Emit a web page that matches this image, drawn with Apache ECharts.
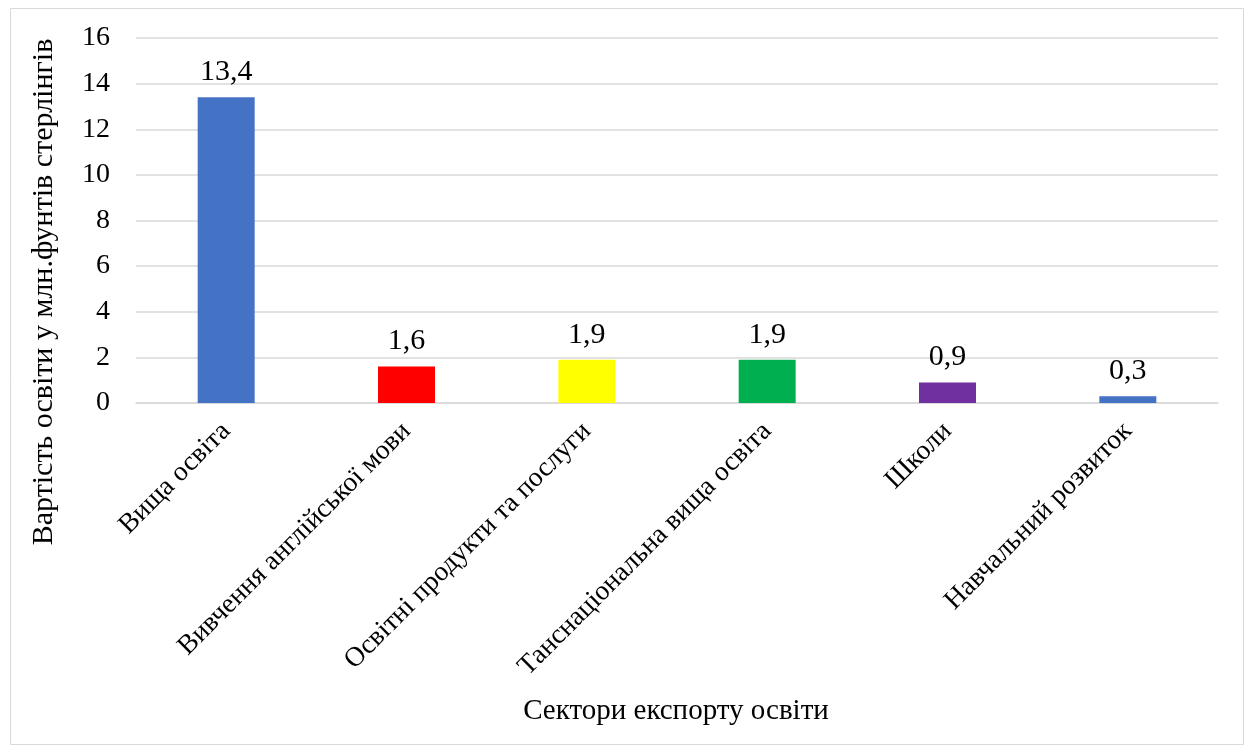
<!DOCTYPE html>
<html><head><meta charset="utf-8">
<script src="https://cdn.jsdelivr.net/npm/echarts@6/dist/echarts.min.js"></script>
<style>html,body{margin:0;padding:0;background:#fff}#c{width:1254px;height:753px}</style>
</head><body><div id="c"></div>
<script>
const categories = ['Вища освіта','Вивчення англійської мови','Освітні продукти та послуги','Танснаціональна вища освіта','Школи','Навчальний розвиток'];
const values = [13.4, 1.6, 1.9, 1.9, 0.9, 0.3];
const colors = ['#4472C4','#FF0000','#FFFF00','#00B050','#7030A0','#4472C4'];
const yTitle = 'Вартість освіти у млн.фунтів стерлінгів';
const xTitle = 'Сектори експорту освіти';
const F = '"Liberation Serif","Times New Roman",serif';
const chart = echarts.init(document.getElementById('c'));
chart.setOption({
  animation:false,
  grid:{left:136,right:36,top:38,bottom:350,containLabel:false},
  graphic:[
    {type:'rect',shape:{x:10.5,y:8.5,width:1233,height:736},style:{fill:'none',stroke:'#D9D9D9',lineWidth:1}},
    {type:'text',x:676,y:711,style:{text:xTitle,font:'29px '+F,fill:'#000',align:'center',verticalAlign:'middle'}},
    {type:'text',x:44,y:292,rotation:Math.PI/2,style:{text:yTitle,font:'30px '+F,fill:'#000',align:'center',verticalAlign:'middle'}}
  ],
  xAxis:{type:'category',data:categories,
    axisLine:{lineStyle:{color:'#D9D9D9',width:1.5}},axisTick:{show:false},
    axisLabel:{rotate:45,interval:0,fontFamily:F,fontSize:27.5,color:'#000',margin:24}},
  yAxis:{type:'value',min:0,max:16,interval:2,
    axisLine:{show:false},axisTick:{show:false},
    axisLabel:{fontFamily:F,fontSize:28,color:'#000',margin:26},
    splitLine:{lineStyle:{color:'#D9D9D9',width:1.5}}},
  series:[{type:'bar',barWidth:57,
    data:values.map((v,i)=>({value:v,itemStyle:{color:colors[i]}})),
    label:{show:true,position:'top',distance:10,fontFamily:F,fontSize:30,color:'#000',
      formatter:p=>String(p.value).replace('.',',')}}]
});
</script></body></html>
